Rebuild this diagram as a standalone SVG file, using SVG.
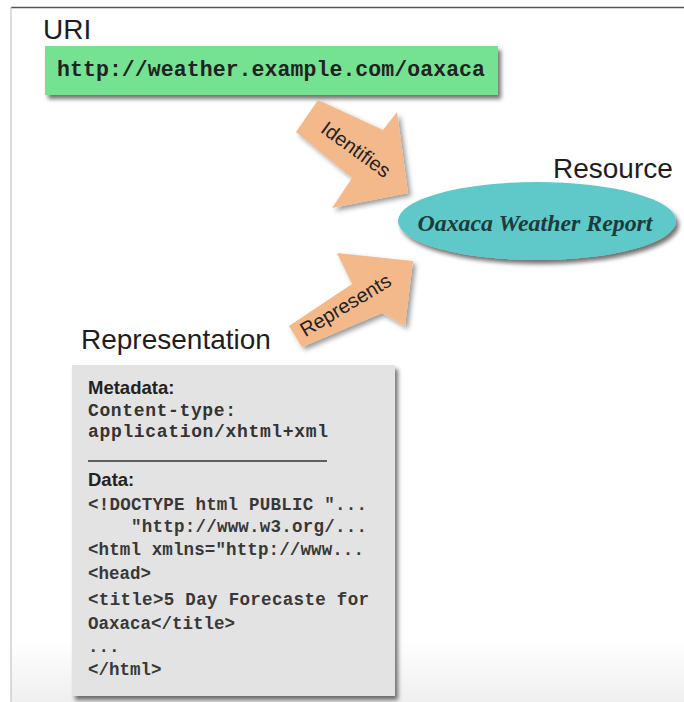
<svg xmlns="http://www.w3.org/2000/svg" width="684" height="702" viewBox="0 0 684 702">
<defs>
<filter id="sh" x="-10%" y="-10%" width="130%" height="140%">
<feDropShadow dx="3" dy="4" stdDeviation="2.2" flood-color="#000" flood-opacity="0.55"/>
</filter>
<filter id="shs" x="-10%" y="-10%" width="130%" height="140%">
<feDropShadow dx="3" dy="3" stdDeviation="2.5" flood-color="#000" flood-opacity="0.4"/>
</filter>
<linearGradient id="bg" x1="0" y1="0" x2="0" y2="1">
<stop offset="0" stop-color="#ffffff"/>
<stop offset="1" stop-color="#efefef"/>
</linearGradient>
<style>
.title{font-family:"Liberation Sans",Arial,sans-serif;font-size:28px;fill:#1e1e1e}
.lbl{font-family:"Liberation Sans",Arial,sans-serif;font-size:20px;fill:#222}
.hdr{font-family:"Liberation Sans",Arial,sans-serif;font-size:18.5px;font-weight:bold;fill:#222}
.meta{font-family:"Liberation Mono","Courier New",monospace;font-size:18px;font-weight:bold;fill:#333}
.code{font-family:"Liberation Mono","Courier New",monospace;font-size:17.5px;font-weight:bold;fill:#383838}
.arrow{fill:#f4b98b}
</style>
</defs>
<rect x="0" y="0" width="684" height="702" fill="#fff"/>
<rect x="11" y="640" width="673" height="62" fill="url(#bg)"/>
<line x1="11" y1="7.5" x2="684" y2="7.5" stroke="#555" stroke-width="1.6"/>
<line x1="11" y1="7" x2="11" y2="702" stroke="#bbb" stroke-width="1"/>

<g id="uri-label"><text class="title" x="43" y="39">URI</text></g>
<g id="uri">
<rect x="45" y="46" width="453" height="49" fill="#74e291" filter="url(#sh)"/>
<text x="57" y="76" font-family="'Liberation Mono','Courier New',monospace" font-size="21.5" font-weight="bold" fill="#222" textLength="428">http://weather.example.com/oaxaca</text>
</g>

<g id="resource-label"><text class="title" x="553" y="178">Resource</text></g>
<g id="resource">
<ellipse cx="537" cy="221" rx="139" ry="39" fill="#5ec9c9" filter="url(#sh)"/>
<text x="535" y="231" text-anchor="middle" font-family="'Liberation Serif','Times New Roman',serif" font-style="italic" font-weight="bold" font-size="23" fill="#1d3b3b" textLength="235" lengthAdjust="spacingAndGlyphs">Oaxaca Weather Report</text>
</g>

<g id="connectors">
<g id="identifies">
<polygon class="arrow" points="296,132 318,100 383,130 397,112 408,193 332,208 352,178" filter="url(#shs)"/>
<text class="lbl" transform="translate(352,155) rotate(36)" text-anchor="middle">Identifies</text>
</g>
<g id="represents">
<polygon class="arrow" points="289,326 352,284 337,253 413,261 405,326 382,313 302,347" filter="url(#shs)"/>
<text class="lbl" transform="translate(349,311) rotate(-31)" text-anchor="middle">Represents</text>
</g>
</g>

<g id="representation-label"><text class="title" x="81" y="349">Representation</text></g>
<g id="representation">
<rect x="72" y="365" width="323" height="331" fill="#e3e3e3" filter="url(#sh)"/>
<text class="hdr" x="88" y="394">Metadata:</text>
<text class="meta" x="88" y="416" textLength="148">Content-type:</text>
<text class="meta" x="88" y="437" textLength="240">application/xhtml+xml</text>
<line x1="88" y1="461" x2="327" y2="461" stroke="#333" stroke-width="1.3"/>
<text class="hdr" x="88" y="486">Data:</text>
<text class="code" x="88" y="510" textLength="279">&lt;!DOCTYPE html PUBLIC "...</text>
<text class="code" x="131" y="532" textLength="236">"http://www.w3.org/...</text>
<text class="code" x="88" y="555" textLength="276">&lt;html xmlns="http://www...</text>
<text class="code" x="88" y="579">&lt;head&gt;</text>
<text class="code" x="88" y="605" textLength="281">&lt;title&gt;5 Day Forecaste for</text>
<text class="code" x="88" y="629">Oaxaca&lt;/title&gt;</text>
<text class="code" x="88" y="652">...</text>
<text class="code" x="88" y="675">&lt;/html&gt;</text>
</g>
</svg>
